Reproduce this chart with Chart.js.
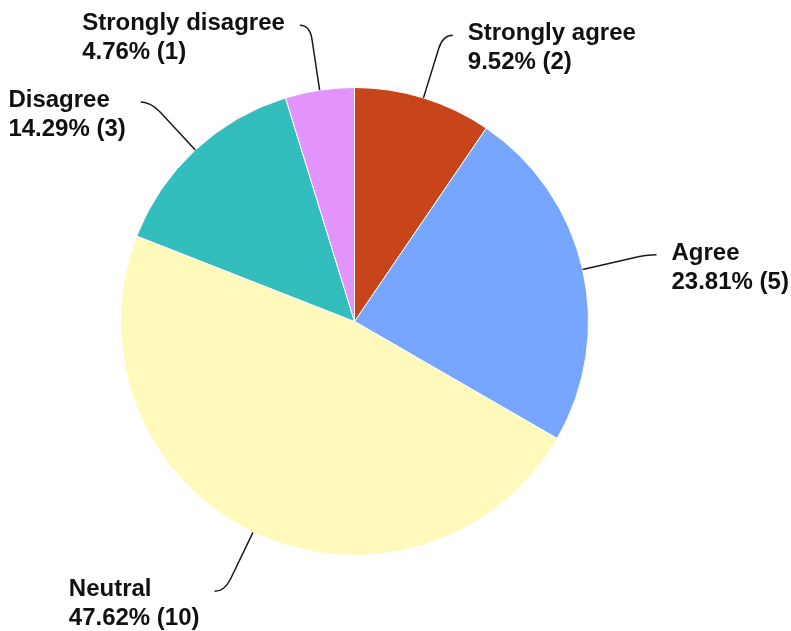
<!DOCTYPE html>
<html>
<head>
<meta charset="utf-8">
<script src="https://cdn.jsdelivr.net/npm/chart.js@4.4.1/dist/chart.umd.min.js"></script>
<style>
  html,body{margin:0;padding:0;background:#fff;}
  #wrap{position:relative;width:791px;height:631px;}
</style>
</head>
<body>
<div id="wrap"><canvas id="pie" width="791" height="631"></canvas></div>
<script>
// Survey answers, drawn clockwise from 12 o'clock
var answers = ["Strongly agree", "Agree", "Neutral", "Disagree", "Strongly disagree"];
var counts  = [2, 5, 10, 3, 1];
var colours = ["#C8441B", "#76A6FF", "#FFFABB", "#33BDBD", "#E294FC"];

var total = counts.reduce(function (a, b) { return a + b; }, 0);
function pct(n) { return (n / total * 100).toFixed(2) + "%"; }

// callout labels: curved leader from the slice edge, then two lines of text
var callouts = {
  id: "callouts",
  afterDatasetsDraw: function (chart) {
    var ctx = chart.ctx, arcs = chart.getDatasetMeta(0).data;
    var FONT = "bold 24px 'Liberation Sans', Arial, sans-serif", LH = 29;
    ctx.save();
    ctx.font = FONT;
    arcs.forEach(function (arc, i) {
      var mid = (arc.startAngle + arc.endAngle) / 2, r = arc.outerRadius;
      var cx = Math.cos(mid), cy = Math.sin(mid);
      var sx = arc.x + cx * r, sy = arc.y + cy * r;
      var ex0 = arc.x + cx * r * 1.28, ey0 = arc.y + cy * r * 1.28;
      var kx = arc.x + cx * r * 1.22, ky = arc.y + cy * r * 1.22;
      var right = cx >= 0, dir = right ? 1 : -1;
      var ex = ex0 + dir * 10, ey = ey0;

      ctx.beginPath();
      ctx.moveTo(sx, sy);
      ctx.lineTo(kx, ky);
      ctx.quadraticCurveTo(ex0, ey0, ex, ey);
      ctx.strokeStyle = "#1a1a1a";
      ctx.lineWidth = 1.5;
      ctx.stroke();

      var lines = [answers[i], pct(counts[i]) + " (" + counts[i] + ")"];
      var w = Math.max.apply(null, lines.map(function (t) { return ctx.measureText(t).width; }));
      var tx = right ? ex + 15 : ex - 15 - w;
      ctx.fillStyle = "#111";
      ctx.textAlign = "left";
      ctx.textBaseline = "alphabetic";
      lines.forEach(function (t, k) { ctx.fillText(t, tx, ey + 5 + k * LH); });
    });
    ctx.restore();
  }
};

new Chart(document.getElementById("pie"), {
  type: "pie",
  data: {
    labels: answers,
    datasets: [{ data: counts, backgroundColor: colours, borderColor: "#fff", borderWidth: 1 }]
  },
  options: {
    responsive: false,
    animation: false,
    layout: { padding: { left: 120, right: 202, top: 87, bottom: 75 } },
    plugins: { legend: { display: false }, tooltip: { enabled: false } }
  },
  plugins: [callouts]
});
</script>
</body>
</html>
